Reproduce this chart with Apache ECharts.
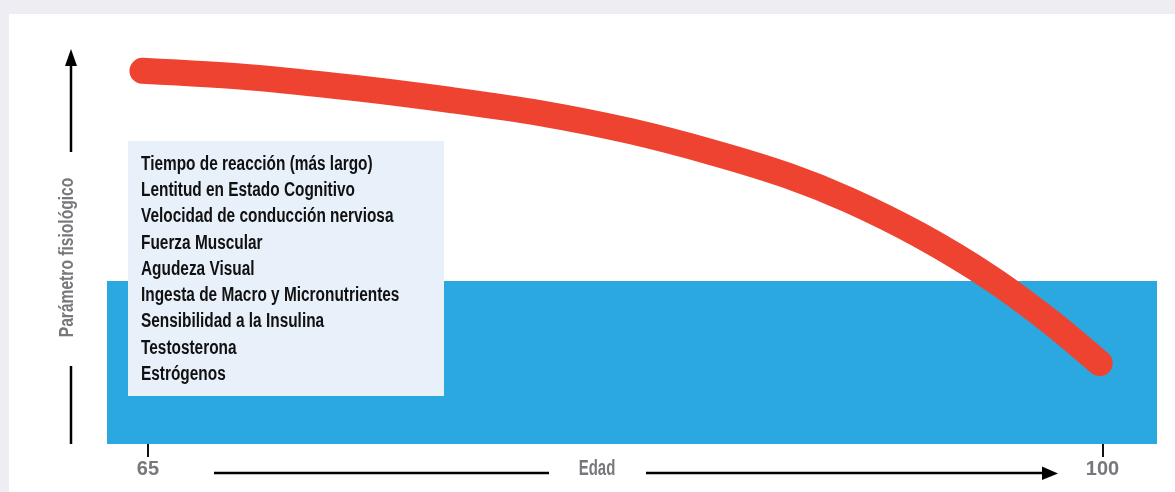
<!DOCTYPE html>
<html>
<head>
    <meta charset='utf-8' />
    <title>Edad</title>
    <script src="https://cdn.jsdelivr.net/npm/echarts@6/dist/echarts.min.js"></script>
</head>
<body style='margin:0;width:1175px;height:492px;'>
<div id='chart' style='width:1175px;height:492px;'></div>

<script type='text/javascript'>
    // curva (edad -> parametro fisiologico, escala 0-100)
    var ageValues = [64.8, 68.7, 72.6, 76.1, 79.4, 82.7, 85.8, 88.5, 90.7, 93.3, 95.9, 98.1, 99.9];
    var paramValues = [93.3, 91.7, 89, 86, 82.7, 78.2, 72.7, 67, 61, 52.2, 41.5, 30.5, 20.2];
    var ageTicks = [65, 100];
    var bandTop = 40.75;
    var factorLines = [
        'Tiempo de reacción (más largo)',
        'Lentitud en Estado Cognitivo',
        'Velocidad de conducción nerviosa',
        'Fuerza Muscular',
        'Agudeza Visual',
        'Ingesta de Macro y Micronutrientes',
        'Sensibilidad a la Insulina',
        'Testosterona',
        'Estrógenos'
    ];

    var font = '"Liberation Sans", Arial, sans-serif';
    var grey = '#77777c';

    var curve = ageValues.map(function (a, i) { return [a, paramValues[i]]; });

    var option = {
        backgroundColor: '#ededf3',
        animation: false,
        grid: { left: 107, right: 18, top: 44, bottom: 48 },
        xAxis: {
            type: 'value',
            min: 63.5,
            max: 102,
            axisLine: { show: false },
            splitLine: { show: false },
            axisTick: {
                show: true,
                customValues: ageTicks,
                length: 13,
                lineStyle: { color: '#111', width: 2 }
            },
            axisLabel: {
                customValues: ageTicks,
                margin: 15,
                color: grey,
                fontFamily: font,
                fontWeight: 'bold',
                fontSize: 20
            }
        },
        yAxis: {
            type: 'value',
            min: 0,
            max: 100,
            show: false
        },
        graphic: [
            { type: 'rect', z: 0, shape: { x: 9, y: 14, width: 1166, height: 478 }, style: { fill: '#fff' } },
            { type: 'rect', z: 5, shape: { x: 128, y: 141, width: 316, height: 255 }, style: { fill: '#e8f0fa' } },
            {
                type: 'text', z: 6, x: 141, y: 151, scaleX: 0.77,
                style: {
                    text: factorLines.join('\n'),
                    font: 'bold 20px ' + font,
                    lineHeight: 26.3,
                    fill: '#111',
                    verticalAlign: 'top'
                }
            },
            // eje y
            { type: 'line', z: 5, shape: { x1: 71, y1: 152, x2: 71, y2: 62 }, style: { stroke: '#000', lineWidth: 2.5 } },
            { type: 'polygon', z: 5, shape: { points: [[65, 66], [71, 49], [77, 66]] }, style: { fill: '#000' } },
            { type: 'line', z: 5, shape: { x1: 71, y1: 366, x2: 71, y2: 444 }, style: { stroke: '#000', lineWidth: 2.5 } },
            {
                type: 'text', z: 5, x: 67.5, y: 257.5, rotation: Math.PI / 2, scaleX: 0.78,
                style: {
                    text: 'Parámetro fisiológico',
                    font: 'bold 20px ' + font,
                    fill: grey,
                    align: 'center',
                    verticalAlign: 'middle'
                }
            },
            // eje x
            { type: 'line', z: 5, shape: { x1: 214, y1: 473, x2: 549, y2: 473 }, style: { stroke: '#000', lineWidth: 2.5 } },
            { type: 'line', z: 5, shape: { x1: 646, y1: 473, x2: 1044, y2: 473 }, style: { stroke: '#000', lineWidth: 2.5 } },
            { type: 'polygon', z: 5, shape: { points: [[1042, 466.5], [1058, 473.5], [1042, 480]] }, style: { fill: '#000' } },
            {
                type: 'text', z: 5, x: 597, y: 469, scaleX: 0.68,
                style: {
                    text: 'Edad',
                    font: 'bold 22px ' + font,
                    fill: grey,
                    align: 'center',
                    verticalAlign: 'middle'
                }
            }
        ],
        series: [
            {
                type: 'line',
                z: 1,
                data: [],
                markArea: {
                    silent: true,
                    itemStyle: { color: '#2ba8e0', opacity: 1 },
                    data: [[{ xAxis: 63.5, yAxis: 0 }, { xAxis: 102, yAxis: bandTop }]]
                }
            },
            {
                type: 'line',
                z: 8,
                data: curve,
                smooth: 0.3,
                symbol: 'none',
                lineStyle: { color: '#ef4331', width: 26, cap: 'round', join: 'round' }
            }
        ]
    };

    var myChart = echarts.init(document.getElementById('chart'));
    myChart.setOption(option);
</script>
</body>
</html>
